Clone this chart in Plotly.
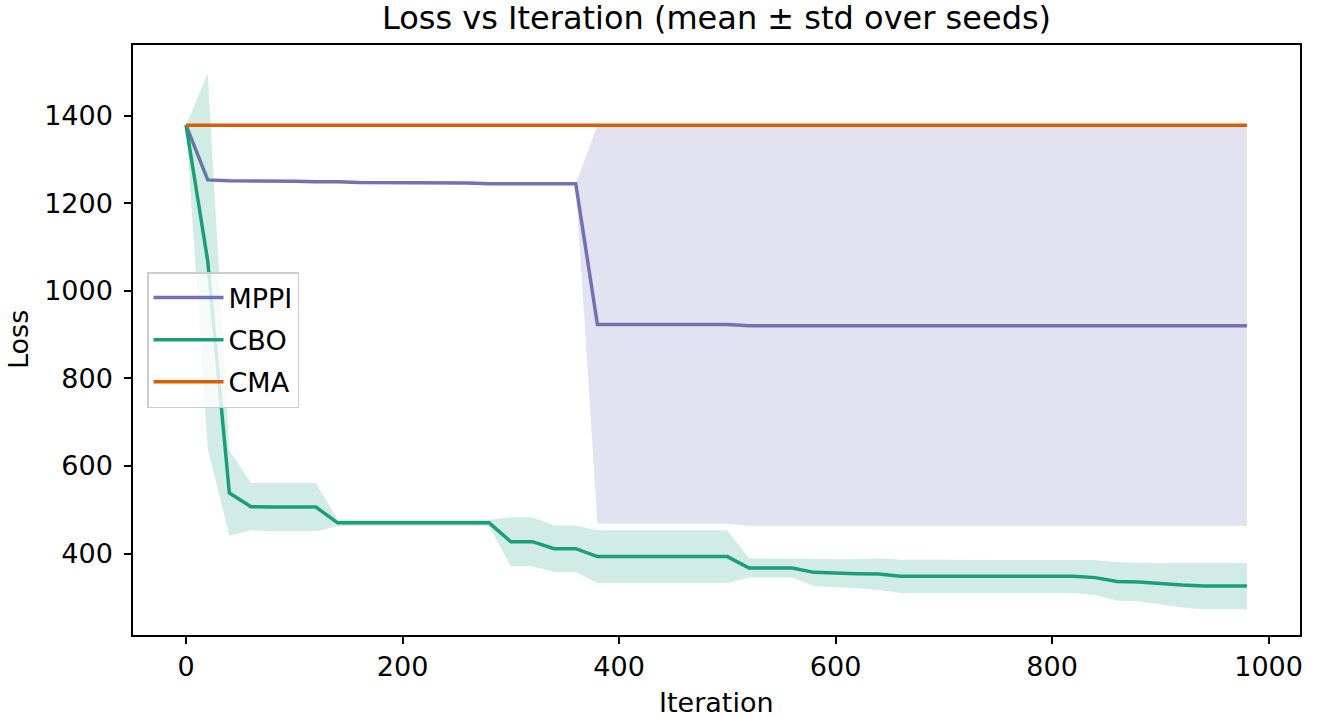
import plotly.graph_objects as go

# ---------------- data ----------------
iterations = list(range(0, 1000, 20))  # 0 .. 980

mppi_mean = [1378, 1253, 1251, 1251, 1250, 1250, 1249, 1249, 1247, 1247,
             1247, 1247, 1247, 1246, 1244, 1244, 1244, 1244, 1244, 923,
             923, 923, 923, 923, 923, 923, 920, 920, 920, 920,
             920, 920, 920, 920, 920, 920, 920, 920, 920, 920,
             920, 920, 920, 920, 920, 920, 920, 920, 920, 920]
mppi_std = [0, 0, 0, 0, 0, 0, 0, 0, 0, 0,
            0, 0, 0, 0, 0, 0, 0, 0, 0, 455,
            455, 455, 455, 455, 455, 455, 457, 457, 457, 457,
            457, 457, 457, 457, 457, 457, 457, 457, 457, 457,
            457, 457, 457, 457, 457, 457, 457, 457, 457, 457]

cbo_mean = [1378, 1068, 538, 507, 506, 506, 506, 470, 470, 470,
            470, 470, 470, 470, 470, 427, 427, 411, 411, 393,
            393, 393, 393, 393, 393, 393, 367, 367, 367, 357,
            355, 354, 353, 348, 348, 348, 348, 348, 348, 348,
            348, 348, 345, 336, 335, 331, 328, 326, 326, 326]
cbo_std = [0, 428, 97, 54, 55, 55, 55, 7, 7, 7,
           7, 7, 7, 7, 7, 56, 56, 53, 53, 60,
           60, 60, 60, 60, 60, 60, 22, 22, 22, 31,
           32, 33, 36, 38, 38, 38, 38, 38, 38, 38,
           38, 38, 40, 44, 44, 47, 51, 53, 53, 53]

cma_mean = [1378, 1378, 1378, 1378, 1378, 1378, 1378, 1378, 1378, 1378,
            1378, 1378, 1378, 1378, 1378, 1378, 1378, 1378, 1378, 1378,
            1378, 1378, 1378, 1378, 1378, 1377.5, 1377.5, 1377.5, 1377.5, 1377.5,
            1377.5, 1377.5, 1377.5, 1377.5, 1377.5, 1377.5, 1377.5, 1377.5, 1377.5, 1377.5,
            1377.5, 1377.5, 1377.5, 1377.5, 1377.5, 1377.5, 1377.5, 1377.5, 1377.5, 1377.5]
cma_std = [0] * 50

methods = ["MPPI", "CBO", "CMA"]
means = [mppi_mean, cbo_mean, cma_mean]
stds = [mppi_std, cbo_std, cma_std]
colors = ["#7570b3", "#1b9e77", "#d95f02"]
fills = ["rgba(117,112,179,0.2)", "rgba(27,158,119,0.2)", "rgba(217,95,2,0.2)"]

x_ticks = [0, 200, 400, 600, 800, 1000]
y_ticks = [400, 600, 800, 1000, 1200, 1400]

FONT = "DejaVu Sans"
FS = 27

fig = go.Figure()
for name, m, s, c, f in zip(methods, means, stds, colors, fills):
    upper = [a + b for a, b in zip(m, s)]
    lower = [a - b for a, b in zip(m, s)]
    fig.add_trace(go.Scatter(
        x=iterations + iterations[::-1], y=upper + lower[::-1],
        fill="toself", fillcolor=f, line=dict(width=0), mode="lines",
        hoverinfo="skip", showlegend=False, legendgroup=name))
    fig.add_trace(go.Scatter(
        x=iterations, y=m, mode="lines", name=name, legendgroup=name,
        line=dict(color=c, width=3.5)))

W, H = 1323, 717
L, R, T, B = 133, 23, 45, 82

axis_common = dict(
    showline=True, linecolor="black", linewidth=1.5, mirror=True,
    ticks="outside", ticklen=7, tickwidth=1.5, tickcolor="black",
    showgrid=False, zeroline=False,
    tickfont=dict(family=FONT, size=FS, color="black"),
)

fig.update_layout(
    width=W, height=H,
    margin=dict(l=L, r=R, t=T, b=B),
    paper_bgcolor="white", plot_bgcolor="white",
    font=dict(family=FONT, size=FS, color="black"),
    title=dict(text="Loss vs Iteration (mean ± std over seeds)",
               x=0.5, xref="paper", xanchor="center",
               y=1 - 18 / H, yref="container", yanchor="middle",
               font=dict(family=FONT, size=32, color="black")),
    xaxis=dict(range=[-49, 1029], tickvals=x_ticks, **axis_common),
    yaxis=dict(range=[214, 1561], tickvals=y_ticks, ticklabelstandoff=6, **axis_common),
    legend=dict(x=0.012, y=0.5, xanchor="left", yanchor="middle",
                bgcolor="rgba(255,255,255,0.8)", bordercolor="#cccccc",
                borderwidth=1.5, font=dict(family=FONT, size=FS, color="black"),
                itemwidth=70, tracegroupgap=4),
    showlegend=True,
)

fig.add_annotation(text="Iteration", xref="paper", yref="paper", x=0.5, y=0,
                   xanchor="center", yanchor="middle", yshift=-67, showarrow=False,
                   font=dict(family=FONT, size=FS, color="black"))
fig.add_annotation(text="Loss", xref="paper", yref="paper", x=0, y=0.5,
                   xanchor="center", yanchor="middle", xshift=-115, textangle=-90,
                   showarrow=False, font=dict(family=FONT, size=FS, color="black"))

fig.write_html("out.html")
